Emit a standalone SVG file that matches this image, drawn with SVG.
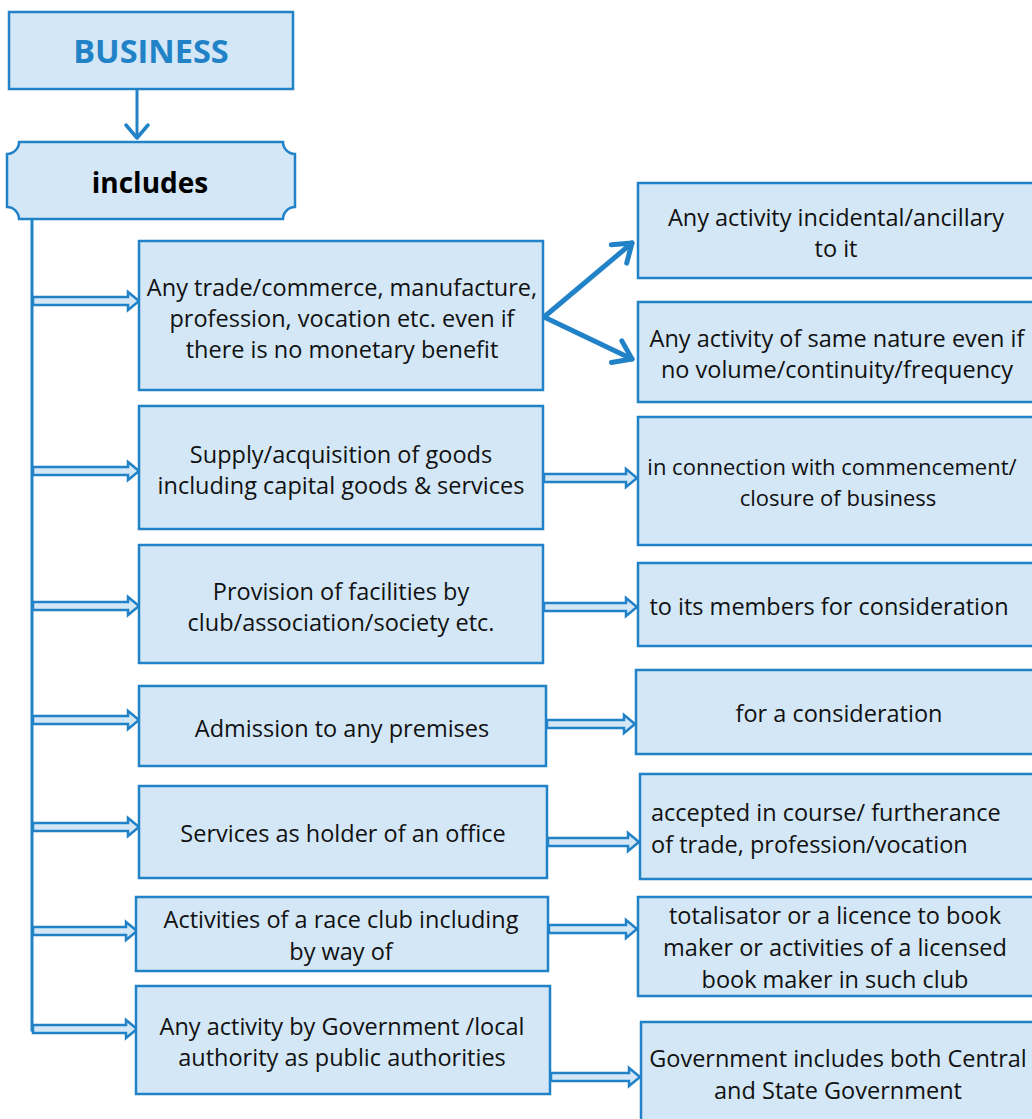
<svg xmlns="http://www.w3.org/2000/svg" width="1032" height="1119" viewBox="0 0 1032 1119">
  <style>
    .box { fill: #d3e7f6; stroke: #2282c8; stroke-width: 2.5; }
    .txt { font-family: "Open Sans", "Noto Sans", sans-serif; font-size: 23.5px; fill: #111; }
    .small { font-size: 22px; }
    .mid { text-anchor: middle; }
    .dbl { fill: #d3e7f6; stroke: #2282c8; stroke-width: 2.5; stroke-linejoin: miter; }
    .line { fill: none; stroke: #2282c8; stroke-width: 3; }
    .thick { fill: none; stroke: #2282c8; stroke-width: 5; stroke-linecap: round; }
  </style>
  <defs>
    <marker id="vhead" viewBox="0 0 26 26" refX="22" refY="13" markerWidth="26" markerHeight="26" markerUnits="userSpaceOnUse" orient="auto">
      <path d="M9,2 L22,13 L9,24" fill="none" stroke="#2282c8" stroke-width="3.5" stroke-linecap="round" stroke-linejoin="round"/>
    </marker>
    <marker id="bighead" viewBox="0 0 30 30" refX="25" refY="15" markerWidth="30" markerHeight="30" markerUnits="userSpaceOnUse" orient="auto">
      <path d="M8,3 L25,15 L8,27" fill="none" stroke="#2282c8" stroke-width="5" stroke-linecap="round" stroke-linejoin="round"/>
    </marker>
  </defs>

  <rect width="1032" height="1119" fill="#ffffff"/>

  <!-- connectors -->
  <g id="connectors">
    <line class="line" x1="137" y1="89" x2="137" y2="138" marker-end="url(#vhead)"/>
    <polyline class="line" points="32,219 32,1030 36,1030"/>
    <!-- trunk to left column -->
    <path class="dbl" d="M33,297 H128 V292 L139,301 L128,310 V305 H33 Z"/>
    <path class="dbl" d="M33,467 H128 V462 L139,471 L128,480 V475 H33 Z"/>
    <path class="dbl" d="M33,602 H128 V597 L139,606 L128,615 V610 H33 Z"/>
    <path class="dbl" d="M33,716 H128 V711 L139,720 L128,729 V724 H33 Z"/>
    <path class="dbl" d="M33,823 H128 V818 L139,827 L128,836 V831 H33 Z"/>
    <path class="dbl" d="M33,927 H126 V922 L137,931 L126,940 V935 H33 Z"/>
    <path class="dbl" d="M33,1025 H126 V1020 L137,1029 L126,1038 V1033 H33 Z"/>
    <!-- left column to right column -->
    <line class="thick" x1="544" y1="317" x2="632" y2="243" marker-end="url(#bighead)"/>
    <line class="thick" x1="544" y1="317" x2="632" y2="359" marker-end="url(#bighead)"/>
    <path class="dbl" d="M544,474 H626 V469 L637,478 L626,487 V482 H544 Z"/>
    <path class="dbl" d="M544,603 H626 V598 L637,607 L626,616 V611 H544 Z"/>
    <path class="dbl" d="M547,720 H624 V715 L635,724 L624,733 V728 H547 Z"/>
    <path class="dbl" d="M548,838 H628 V833 L639,842 L628,851 V846 H548 Z"/>
    <path class="dbl" d="M549,925 H626 V920 L637,929 L626,938 V933 H549 Z"/>
    <path class="dbl" d="M551,1073 H629 V1068 L640,1077 L629,1086 V1081 H551 Z"/>
  </g>

  <g id="business">
    <rect class="box" x="9" y="12" width="284" height="77"/>
    <text x="151" y="63" text-anchor="middle" font-family="'Open Sans', 'Noto Sans', sans-serif" font-size="32.5" font-weight="bold" fill="#2282c8">BUSINESS</text>
  </g>

  <g id="includes">
    <path class="box" d="M19,142 H283 A12,12 0 0 0 295,154 V207 A12,12 0 0 0 283,219 H19 A12,12 0 0 0 7,207 V154 A12,12 0 0 0 19,142 Z"/>
    <text x="150" y="193" text-anchor="middle" font-family="'Open Sans', 'Noto Sans', sans-serif" font-size="28" font-weight="bold" fill="#000">includes</text>
  </g>

  <g id="trade">
    <rect class="box" x="139" y="241" width="404" height="149"/>
    <text class="txt mid" x="342" y="296">Any trade/commerce, manufacture,</text>
    <text class="txt mid" x="342" y="327">profession, vocation etc. even if</text>
    <text class="txt mid" x="342" y="358">there is no monetary benefit</text>
  </g>

  <g id="supply">
    <rect class="box" x="139" y="406" width="404" height="123"/>
    <text class="txt mid" x="341" y="463">Supply/acquisition of goods</text>
    <text class="txt mid" x="341" y="494">including capital goods &amp; services</text>
  </g>

  <g id="facilities">
    <rect class="box" x="139" y="545" width="404" height="118"/>
    <text class="txt mid" x="341" y="600">Provision of facilities by</text>
    <text class="txt mid" x="341" y="631">club/association/society etc.</text>
  </g>

  <g id="admission">
    <rect class="box" x="139" y="686" width="407" height="80"/>
    <text class="txt mid" x="342" y="737">Admission to any premises</text>
  </g>

  <g id="office">
    <rect class="box" x="139" y="786" width="408" height="92"/>
    <text class="txt mid" x="343" y="842">Services as holder of an office</text>
  </g>

  <g id="raceclub">
    <rect class="box" x="136" y="897" width="412" height="74"/>
    <text class="txt mid" x="341" y="928">Activities of a race club including</text>
    <text class="txt mid" x="341" y="960">by way of</text>
  </g>

  <g id="government">
    <rect class="box" x="136" y="986" width="414" height="108"/>
    <text class="txt mid" x="342" y="1035">Any activity by Government /local</text>
    <text class="txt mid" x="342" y="1066">authority as public authorities</text>
  </g>

  <g id="incidental">
    <rect class="box" x="638" y="183" width="400" height="95"/>
    <text class="txt mid" x="836" y="226">Any activity incidental/ancillary</text>
    <text class="txt mid" x="836" y="257">to it</text>
  </g>

  <g id="samenature">
    <rect class="box" x="638" y="302" width="400" height="100"/>
    <text class="txt mid" x="837" y="347">Any activity of same nature even if</text>
    <text class="txt mid" x="837" y="378">no volume/continuity/frequency</text>
  </g>

  <g id="commencement">
    <rect class="box" x="638" y="417" width="400" height="128"/>
    <text class="txt small mid" x="832" y="475">in connection with commencement/</text>
    <text class="txt small mid" x="838" y="506">closure of business</text>
  </g>

  <g id="members">
    <rect class="box" x="638" y="563" width="400" height="83"/>
    <text class="txt mid" x="829" y="615">to its members for consideration</text>
  </g>

  <g id="consideration">
    <rect class="box" x="636" y="670" width="402" height="84"/>
    <text class="txt mid" x="839" y="722">for a consideration</text>
  </g>

  <g id="furtherance">
    <rect class="box" x="640" y="774" width="398" height="105"/>
    <text class="txt" x="651" y="821">accepted in course/ furtherance</text>
    <text class="txt" x="651" y="853">of trade, profession/vocation</text>
  </g>

  <g id="totalisator">
    <rect class="box" x="638" y="897" width="400" height="99"/>
    <text class="txt mid" x="835" y="924">totalisator or a licence to book</text>
    <text class="txt mid" x="835" y="956">maker or activities of a licensed</text>
    <text class="txt mid" x="835" y="988">book maker in such club</text>
  </g>

  <g id="centralstate">
    <rect class="box" x="641" y="1022" width="400" height="105"/>
    <text class="txt mid" x="838" y="1067">Government includes both Central</text>
    <text class="txt mid" x="838" y="1099">and State Government</text>
  </g>
</svg>
